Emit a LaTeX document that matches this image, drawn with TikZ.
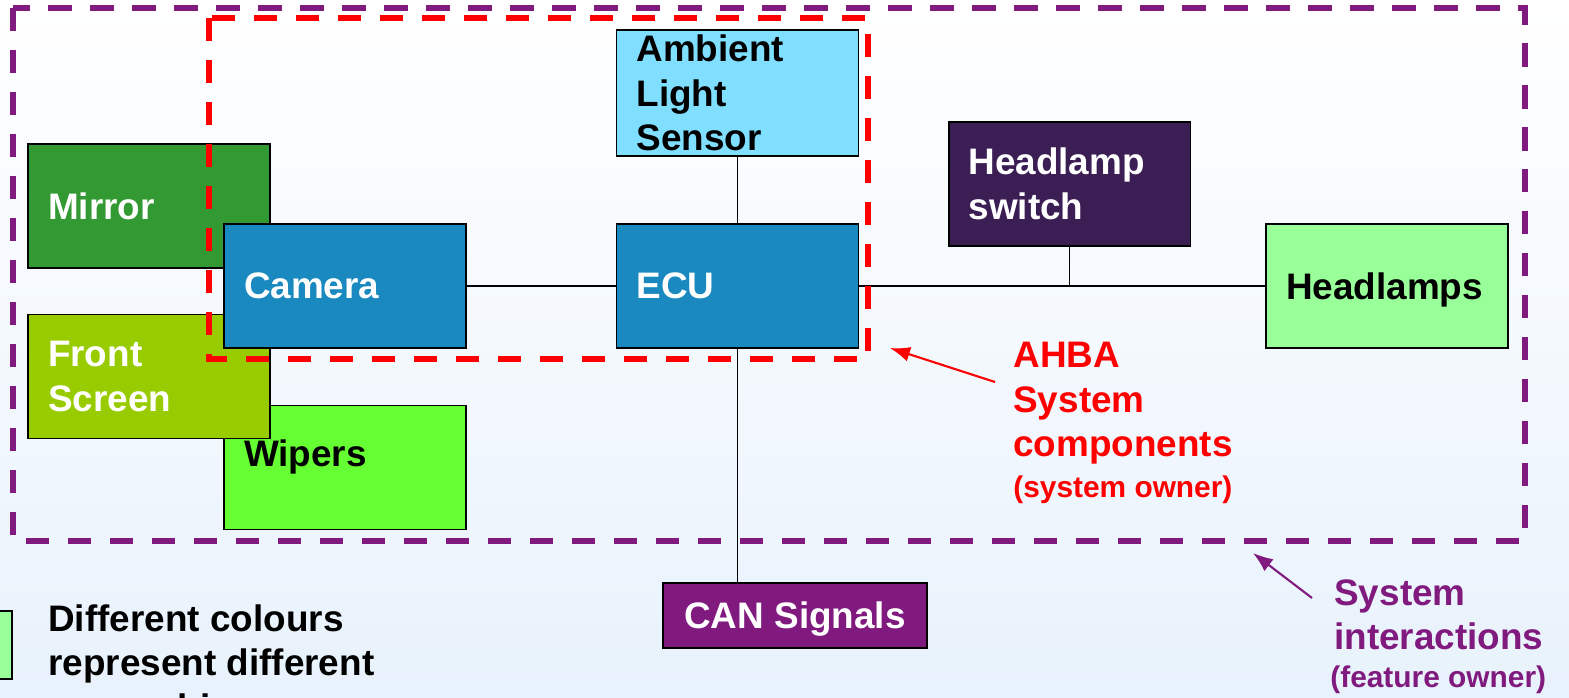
\documentclass[tikz,border=0pt]{standalone}
\usepackage{fontspec}
\setmainfont{Liberation Sans}
\usetikzlibrary{arrows.meta,positioning,calc}

\definecolor{mirrorgreen}{RGB}{51,153,51}
\definecolor{camblue}{RGB}{25,137,191}
\definecolor{screengreen}{RGB}{153,204,0}
\definecolor{wipergreen}{RGB}{102,255,51}
\definecolor{alsblue}{RGB}{128,223,255}
\definecolor{switchpurple}{RGB}{59,30,84}
\definecolor{lampgreen}{RGB}{153,255,153}
\definecolor{ownerpurple}{RGB}{128,26,126}
\definecolor{bgblue}{RGB}{232,242,252}

\begin{document}
\begin{tikzpicture}[x=0.02cm, y=-0.02cm,
    part/.style={draw=black, line width=1.1pt, minimum width=4.84cm, minimum height=2.48cm,
        text width=4.04cm, align=left, inner sep=0pt, font=\fontsize{21}{25.3}\selectfont\bfseries},
    oneline/.style={text depth=0pt},
    bigtext/.style={inner sep=0pt, align=left, font=\fontsize{21}{25.3}\selectfont\bfseries},
    smalltext/.style={inner sep=0pt, align=left, font=\fontsize{17}{20.5}\selectfont\bfseries},
    bus/.style={line width=0.8pt, black},
    dashbox/.style={line width=3.4pt, dash pattern=on 0.47cm off 0.37cm}]

    \clip (0,0) rectangle (1569,697);
    \shade[top color=white, middle color=white, bottom color=bgblue] (0,0) rectangle (1569,697);

    % vehicle parts outside the system
    \node[part, oneline, fill=mirrorgreen, text=white] (mirror) at (149,206) {Mirror};
    \node[part, oneline, fill=wipergreen] (wipers) at (345,467.5) {\raisebox{0.28cm}[\height][0pt]{Wipers}};
    \node[part, fill=screengreen, text=white] (screen) at (149,376.5) {Front\\Screen};
    \node[part, oneline, fill=camblue, text=white] (camera) at (345,286) {Camera};

    % AHBA system
    \node[part, fill=alsblue, minimum height=2.52cm] (als) at (737.5,93) {Ambient\\Light\\Sensor};
    \node[part, oneline, fill=camblue, text=white] (ecu) at (737.5,286) {ECU};
    \node[part, fill=switchpurple, text=white] (switch) at (1069.5,184) {Headlamp\\switch};
    \node[part, oneline, fill=lampgreen] (lamps) at (1387,286) {Headlamps};
    \node[part, oneline, fill=ownerpurple, text=white, minimum width=5.28cm, minimum height=1.3cm,
        text width=, align=center] (can) at (795,615.5) {CAN Signals};

    \draw[bus] (camera) -- (ecu);
    \draw[bus] (ecu) -- (lamps);
    \draw[bus] (switch.south) -- (switch.south |- ecu.east);
    \draw[bus] (als) -- (ecu);
    \draw[bus] (ecu.south) -- (ecu.south |- can.north);

    % ownership borders
    \draw[dashbox, red] (209,18) rectangle (868,359);
    \draw[dashbox, ownerpurple, line width=3pt] (13,8) rectangle (1525,541);

    % legend
    \node[draw=black, line width=1.1pt, fill=lampgreen, minimum width=4cm, minimum height=1.36cm,
        anchor=east, inner sep=0pt] (legendbox) at (13,645) {};
    \node[bigtext, anchor=north west] (legendtext) at (48,604) {Different colours\\represent different\\ownership};

    % callouts
    \node[bigtext, text=red, anchor=north west] (ahba) at (1013,342) {AHBA\\System\\components};
    \node[smalltext, text=red, below right=0.22cm and 0cm of ahba.south west] (ahbaowner) {(system owner)};
    \coordinate (redtail) at (995,382);
    \coordinate (redtip) at (890,348);
    \draw[red, line width=1.2pt, -{Latex[length=0.4cm, width=0.3cm]}] (redtail) -- (redtip);

    \node[bigtext, text=ownerpurple, anchor=north west] (interact) at (1334,579) {System\\interactions};
    \node[smalltext, text=ownerpurple, below right=0.3cm and -0.08cm of interact.south west] (featowner) {(feature owner)};
    \coordinate (purptail) at (1312,598);
    \coordinate (purptip) at (1253,553);
    \draw[ownerpurple, line width=1.2pt, -{Latex[length=0.4cm, width=0.3cm]}] (purptail) -- (purptip);
\end{tikzpicture}
\end{document}
